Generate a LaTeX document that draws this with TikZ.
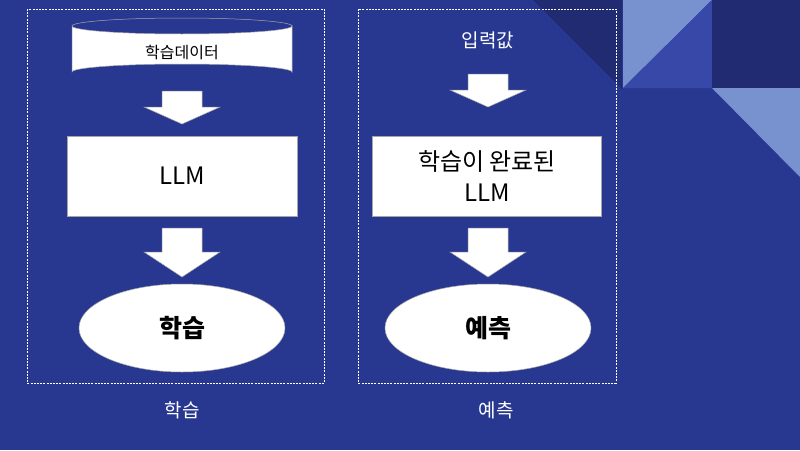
\documentclass[tikz,border=0pt]{standalone}
\usepackage{fontspec}
\setmainfont{Noto Sans CJK KR}
\usetikzlibrary{shapes.geometric}
\definecolor{bgblue}{RGB}{40,56,144}
\definecolor{darkblue}{RGB}{33,43,113}
\definecolor{lightblue}{RGB}{120,146,208}
\definecolor{midblue}{RGB}{56,72,168}
\newcommand\blockarrow[4]{% center x, shaft top, head top, tip
  \fill[white, draw=gray!70, line width=0.5pt] (#1-20,#2) -- (#1+20,#2) -- (#1+20,#3) -- (#1+38,#3) -- (#1,#4) -- (#1-38,#3) -- (#1-20,#3) -- cycle;}
\tikzset{
  frame/.style={draw=white, dashed, dash pattern=on 2pt off 1.2pt, line width=0.6pt},
  whitebox/.style={rectangle, fill=white, draw=gray!70, line width=0.5pt, inner sep=0pt},
  oval/.style={ellipse, fill=white, draw=gray!70, line width=0.5pt, inner sep=0pt},
  label/.style={text=white, font=\fontsize{19}{22}\selectfont},
}
\begin{document}
\begin{tikzpicture}[x=1pt,y=-1pt]
\useasboundingbox (0,0) rectangle (800,450);
\fill[bgblue] (0,0) rectangle (800,450);
% decorative triangles
\fill[darkblue] (533,0) -- (622,0) -- (622,89) -- cycle;
\fill[lightblue] (623,0) -- (712,0) -- (623,88) -- cycle;
\fill[midblue] (712,0) -- (712,88) -- (623,88) -- cycle;
\fill[darkblue] (712,0) rectangle (800,88);
\fill[lightblue] (712,88) -- (800,88) -- (800,177) -- cycle;
% frames
\draw[frame] (27,9) rectangle (324,383);
\draw[frame] (358,9) rectangle (616,383);
% cylinder
\fill[white, draw=gray!70, line width=0.5pt] (72,26) -- (72,72) arc[start angle=180, end angle=360, x radius=110, y radius=8] -- (292,26) arc[start angle=0, end angle=180, x radius=110, y radius=8] -- cycle;
\draw[gray!70, line width=0.5pt] (72,26) arc[start angle=180, end angle=360, x radius=110, y radius=8];
\node[font=\fontsize{16}{18}\selectfont] (data) at (182,52) {학습데이터};
\blockarrow{182}{91}{107}{124}
\node[whitebox, minimum width=230pt, minimum height=80pt, font=\fontsize{24}{28}\selectfont] (llm) at (182,176) {LLM};
\blockarrow{182}{228}{252}{277}
\node[oval, minimum width=206pt, minimum height=88pt, font=\fontsize{25}{28}\selectfont\bfseries] (learn) at (182,328) {학습};
% right column
\node[label] (input) at (488,40) {입력값};
\blockarrow{488}{74}{90}{107}
\node[whitebox, minimum width=229pt, minimum height=80pt, align=center, font=\fontsize{24}{31}\selectfont] (trained) at (487,176) {학습이 완료된\\LLM};
\blockarrow{488}{228}{252}{277}
\node[oval, minimum width=206pt, minimum height=88pt, font=\fontsize{25}{28}\selectfont\bfseries] (predict) at (488,328) {예측};
% bottom labels
\node[label] (l1) at (182,410) {학습};
\node[label] (l2) at (496,410) {예측};
\end{tikzpicture}
\end{document}
